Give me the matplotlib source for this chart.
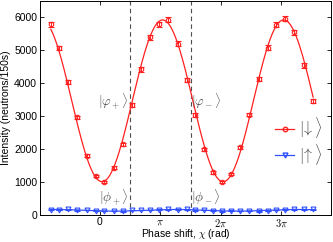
import numpy as np
import matplotlib
matplotlib.use("Agg")
import matplotlib.pyplot as plt
from matplotlib.lines import Line2D

plt.rcParams['font.family'] = ['Liberation Sans', 'DejaVu Sans']
plt.rcParams['mathtext.fontset'] = 'cm'

# phase shift in units of pi
chi_pi = [-0.807, -0.669, -0.516, -0.367, -0.218, -0.063, 0.079, 0.228, 0.377, 0.532,
          0.681, 0.823, 0.979, 1.127, 1.286, 1.435, 1.579, 1.727, 1.876, 2.020,
          2.174, 2.322, 2.471, 2.625, 2.774, 2.917, 3.066, 3.215, 3.369, 3.524]
down = [5790, 5070, 4040, 2960, 1800, 1190, 1010, 1440, 2140, 3350,
        4420, 5400, 5790, 5930, 5200, 4110, 3030, 1990, 1290, 1010,
        1250, 2060, 3050, 4130, 5080, 5780, 5960, 5545, 4540, 3460]
up = [160, 150, 165, 145, 150, 115, 120, 115, 110, 150,
      150, 150, 160, 170, 160, 165, 140, 150, 130, 110,
      125, 120, 115, 110, 120, 150, 160, 170, 170, 165]
xticks_pi = [0, 1, 2, 3]
xtick_labels = ['0', r'$\pi$', r'$2\pi$', r'$3\pi$']
dashed_pi = [0.5, 1.5]

x = np.array(chi_pi) * np.pi
down = np.array(down, float)
up = np.array(up, float)

def sinfit(xv, yv, xf):
    M = np.column_stack([np.ones_like(xv), np.cos(xv), np.sin(xv)])
    c, *_ = np.linalg.lstsq(M, yv, rcond=None)
    return c[0] + c[1] * np.cos(xf) + c[2] * np.sin(xf)

xf = np.linspace(x.min(), x.max(), 400)

fig = plt.figure(figsize=(3.33, 2.42), dpi=100)
ax = fig.add_axes([0.12, 0.112, 0.874, 0.884])

red = '#ff2020'
blue = '#3050ff'
ax.plot(xf, sinfit(x, down, xf), color=red, lw=0.9, zorder=2)
ax.plot(xf, sinfit(x, up, xf), color=blue, lw=0.9, zorder=2)
ax.errorbar(x, down, yerr=np.sqrt(down), fmt='o', ms=3.2, mfc='none', mec=red,
            mew=0.8, ecolor=red, elinewidth=0.7, capsize=2, capthick=0.7, zorder=3)
ax.errorbar(x, up, yerr=np.sqrt(up), fmt='v', ms=3.5, mfc='none', mec=blue,
            mew=0.8, ecolor=blue, elinewidth=0.7, capsize=2, capthick=0.7, zorder=3)

for d in dashed_pi:
    ax.axvline(d * np.pi, color='0.3', ls=(0, (4, 3)), lw=0.8, zorder=1)

tc = '0.3'
fs_ann = 9.5
ax.text(0.5 * np.pi - 0.06, 3450, r'$|\varphi_+\rangle$', ha='right', va='center', fontsize=fs_ann, color=tc)
ax.text(1.5 * np.pi + 0.03, 3450, r'$|\varphi_-\rangle$', ha='left', va='center', fontsize=fs_ann, color=tc)
ax.text(0.5 * np.pi - 0.06, 540, r'$|\phi_+\rangle$', ha='right', va='center', fontsize=fs_ann, color=tc)
ax.text(1.5 * np.pi + 0.03, 540, r'$|\phi_-\rangle$', ha='left', va='center', fontsize=fs_ann, color=tc)

h1 = Line2D([], [], color=red, lw=0.9, marker='o', ms=3.2, mfc='none', mec=red)
h2 = Line2D([], [], color=blue, lw=0.9, marker='v', ms=3.5, mfc='none', mec=blue)
leg = ax.legend([h1, h2], [r'$|\!\downarrow\rangle$', r'$|\!\uparrow\rangle$'],
                loc='center', bbox_to_anchor=(0.89, 0.345), frameon=False,
                fontsize=11.5, handlelength=1.2, handletextpad=0.3, labelspacing=0.1)
for t in leg.get_texts():
    t.set_color('0.3')

ax.set_xlim(-3.1, 12.0)
ax.set_ylim(0, 6500)
ax.set_xticks(np.array(xticks_pi) * np.pi)
ax.set_xticklabels(xtick_labels)
ax.set_yticks(range(0, 6001, 1000))
ax.tick_params(direction='in', top=True, right=True, labelsize=7.5, length=3, width=0.6, pad=2)
ax.tick_params(axis='x', pad=1.5)
for s in ax.spines.values():
    s.set_linewidth(0.7)
ax.set_xlabel(r'Phase shift, $\chi$ (rad)', fontsize=7.5, labelpad=-1)
ax.set_ylabel('Intensity (neutrons/150s)', fontsize=7.5, labelpad=2)

fig.savefig('out.png', dpi=100)
